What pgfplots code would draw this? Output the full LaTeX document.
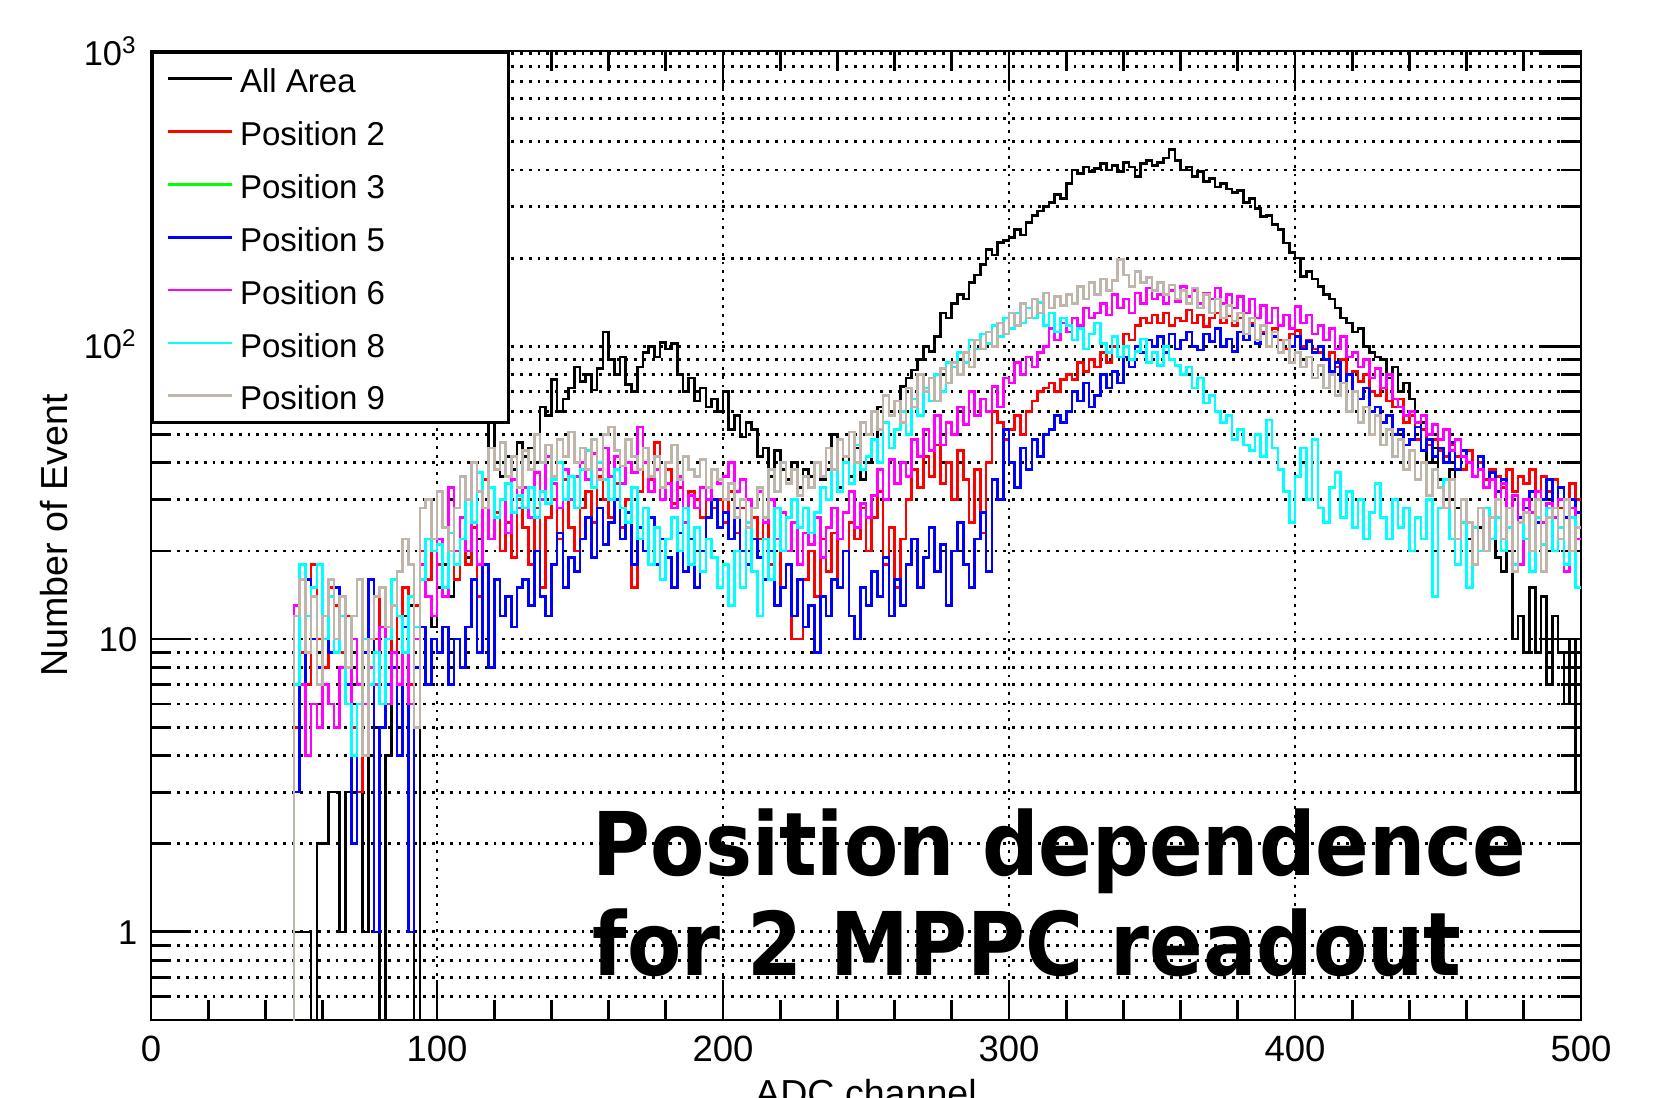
\documentclass[border=0pt]{standalone}
\usepackage{fontspec}
\setmainfont{Liberation Sans}
\newfontfamily\bigsans{DejaVu Sans}[FakeStretch=0.9]
\usepackage{pgfplots}
\pgfplotsset{compat=1.18}
\usepackage{pgfplotstable}

\definecolor{rred}{RGB}{255,0,0}
\definecolor{rgreen}{RGB}{0,255,0}
\definecolor{rblue}{RGB}{0,0,255}
\definecolor{rmagenta}{RGB}{255,0,255}
\definecolor{rcyan}{RGB}{0,255,255}
\definecolor{posgray}{RGB}{191,181,170}

% ADC spectra, bin width 2 (left edges), counts per bin
% k = All Area, r = Pos 2, b = Pos 5, m = Pos 6, c = Pos 8, g = Pos 9
\pgfplotstableread{
x k r b m c g
0 0.01 0.01 0.01 0.01 0.01 0.01
50 1 5 3 13 7 12
52 1 9 7 7 18 16
54 1 7 16 4 12 9
56 0.01 18 10 6 15 14
58 2 10 8 5 18 7
60 2 8 12 7 10 12
62 3 15 9 6 14 16
64 3 13 15 5 9 10
66 1 9 12 8 12 14
68 3 12 7 6 6 8
70 2 5 2 10 4 12
72 3 3 6 7 6 16
74 1 4 9 6 10 4
76 4 8 16 8 7 10
78 5 10 1 7 9 14
80 0.01 15 5 11 6 15
82 4 11 7 6 10 11
84 8 9 8 9 16 13
86 5 12 4 7 12 17
88 12 15 11 9 9 22
90 13 7 1 6 14 18
92 0.01 13 8 10 11 5
94 20 20 11 18 16 28
96 14 16 7 14 22 30
98 11 22 10 12 20 22
100 15 18 9 22 21 32
102 18 14 11 14 15 24
104 14 20 7 33 23 20
106 20 16 10 20 18 28
108 22 22 8 26 22 36
110 19 18 11 20 30 30
112 25 24 16 25 25 40
114 22 14 9 18 37 32
116 28 35 18 28 28 28
118 55 22 8 22 33 45
120 40 27 16 26 26 38
122 36 20 12 30 30 47
124 42 25 14 23 34 36
126 38 19 11 35 27 42
128 47 30 15 28 31 33
130 42 24 16 33 28 44
132 45 18 13 26 33 38
134 40 28 20 37 26 50
136 62 15 14 30 32 40
138 58 26 12 42 29 46
140 77 30 18 34 35 36
142 60 22 23 28 40 48
144 66 35 15 38 30 42
146 72 24 19 30 36 51
148 85 20 17 36 28 40
150 76 28 22 40 38 45
152 80 32 26 35 44 38
154 71 25 19 43 33 48
156 84 36 28 38 40 35
158 112 30 21 45 35 50
160 90 26 25 36 30 53
162 80 34 30 42 38 44
164 92 24 22 34 28 39
166 74 30 27 40 25 48
168 70 15 18 37 33 42
170 85 32 24 53 22 38
172 95 40 20 40 28 45
174 100 35 26 32 18 36
176 92 47 18 38 24 42
178 103 30 22 30 16 33
180 98 38 19 34 22 40
182 102 29 15 28 26 46
184 80 33 23 36 20 35
186 70 28 17 25 28 42
188 78 32 22 31 18 38
190 65 30 15 28 24 36
192 72 26 20 33 17 41
194 62 33 26 30 22 33
196 66 28 30 38 19 38
198 60 30 24 34 15 35
200 70 25 27 36 18 30
202 52 32 22 40 13 34
204 58 23 28 32 20 26
206 49 28 20 35 15 30
208 55 24 18 30 25 24
210 52 26 22 28 17 28
212 42 22 19 32 12 33
214 45 25 16 25 22 26
216 36 18 20 30 16 38
218 44 22 13 22 28 32
220 38 15 15 27 20 40
222 35 18 18 20 26 34
224 40 10 12 25 30 38
226 33 10 16 18 24 31
228 38 16 11 23 28 36
230 36 20 13 21 23 33
232 40 14 9 26 27 40
234 35 22 14 19 33 36
236 38 17 12 24 30 45
238 50 23 16 28 38 38
240 33 15 15 22 32 48
242 42 20 20 27 40 42
244 36 25 12 32 34 51
246 45 22 10 24 46 40
248 35 28 15 29 38 55
250 40 20 13 26 42 50
252 48 26 17 31 48 60
254 62 32 14 38 40 52
256 68 18 19 30 55 68
258 60 24 12 41 45 58
260 65 15 16 34 52 65
262 73 22 13 40 60 55
264 78 30 18 36 50 72
266 83 38 22 48 66 62
268 90 33 15 42 58 80
270 100 42 19 52 72 70
272 96 36 24 44 65 78
274 108 46 17 58 80 65
276 130 34 21 46 70 84
278 125 40 13 55 88 75
280 140 30 20 50 85 88
282 150 44 25 62 95 80
284 145 35 18 54 88 95
286 165 25 15 70 105 85
288 175 38 22 58 98 105
290 190 23 27 66 110 98
292 214 40 17 60 102 112
294 205 60 35 73 118 100
296 226 55 30 62 108 120
298 230 48 52 78 125 110
300 235 52 40 75 115 130
302 250 58 33 88 130 118
304 240 50 45 80 120 140
306 265 60 38 92 135 125
308 280 65 48 85 125 145
310 290 70 42 95 141 130
312 300 72 50 100 118 152
314 310 75 52 115 130 135
316 330 70 58 105 112 148
318 320 77 55 120 125 138
320 360 80 60 112 118 150
322 400 77 70 125 105 140
324 390 88 65 118 115 160
326 410 82 75 135 98 145
328 395 90 62 125 110 165
330 405 85 68 130 120 150
332 420 95 80 140 102 170
334 400 88 72 128 95 155
336 415 100 82 150 108 168
338 395 92 75 135 92 198
340 425 110 92 145 100 175
342 410 105 85 130 90 160
344 380 118 100 152 96 180
346 420 125 95 140 106 165
348 430 120 105 158 88 172
350 415 128 100 145 95 155
352 425 120 108 150 86 165
354 440 130 95 140 100 150
356 470 118 110 155 90 162
358 430 125 98 142 86 145
360 400 122 105 160 80 155
362 410 133 112 148 85 140
364 380 120 100 155 72 158
366 395 128 97 140 78 135
368 365 117 110 152 64 150
370 375 125 104 145 68 130
372 350 130 115 158 60 145
374 360 120 100 140 55 125
376 345 127 106 150 58 138
378 335 118 96 135 48 122
380 340 125 112 148 52 130
382 310 110 105 130 46 110
384 320 120 118 145 44 125
386 295 105 102 125 50 105
388 277 112 110 138 42 118
390 280 100 100 120 56 100
392 260 115 108 135 45 112
394 250 105 95 118 38 95
396 225 98 105 128 32 105
398 209 110 100 115 25 88
400 200 113 108 137 36 95
402 173 100 98 120 45 85
404 180 105 104 128 30 92
406 170 98 95 110 48 78
408 160 95 100 118 28 86
410 150 90 90 105 25 72
412 145 95 82 115 33 80
414 135 85 88 98 37 68
416 125 90 75 108 26 75
418 120 80 80 92 32 60
420 112 82 70 95 24 70
422 115 76 66 85 30 55
424 100 80 72 90 22 62
426 95 70 60 78 27 50
428 92 68 62 84 34 58
430 90 72 55 72 26 46
432 78 65 58 80 22 52
434 85 62 50 66 30 42
436 70 66 52 62 24 48
438 75 55 46 58 28 38
440 66 58 48 60 20 44
442 48 48 53 55 26 35
444 55 52 44 58 22 40
446 40 46 48 50 30 31
448 45 48 42 54 14 38
450 35 44 45 48 28 33
452 30 42 40 52 35 28
454 38 46 47 44 22 35
456 28 42 38 48 18 22
458 25 38 44 42 25 30
460 22 44 40 40 15 25
462 18 36 36 36 24 18
464 24 40 42 38 20 28
466 20 35 33 33 28 20
468 22 38 37 35 22 26
470 19 36 32 30 26 30
472 17 33 35 34 20 22
474 20 38 28 28 24 28
476 10 32 31 31 18 17
478 12 36 26 18 25 25
480 9 34 28 30 22 27
482 15 38 32 27 17 20
484 9 30 25 32 26 30
486 14 36 30 25 21 17
488 7 32 35 29 28 26
490 12 35 28 26 20 28
492 9 28 33 30 24 22
494 6 18 26 17 18 30
496 10 34 30 28 26 20
498 3 30 27 22 15 24
500 3 30 27 22 15 24
}\hist

\newcommand{\lgt}[1]{\rule[-0.11cm]{0pt}{0.445cm}\makebox[2.475cm][l]{#1}}

\begin{document}
\begin{tikzpicture}
\useasboundingbox (-1.51cm,-0.77cm) rectangle (15.21cm,10.20cm);
\begin{axis}[
    scale only axis,
    width=14.3cm, height=9.69cm,
    xmin=0, xmax=500,
    ymode=log, ymin=0.5, ymax=1020,
    xtick={0,100,...,500}, minor x tick num=4,
    ytick={1,10,100,1000},
    yticklabels={1,10,10\textsuperscript{2},10\textsuperscript{3}},
    minor ytick={0.6,0.7,0.8,0.9,2,3,4,5,6,7,8,9,20,30,40,50,60,70,80,90,200,300,400,500,600,700,800,900},
    /pgf/number format/assume math mode=true,
    xmajorgrids, ymajorgrids, yminorgrids,
    major grid style={black, line width=0.8pt, dash pattern=on 0.8pt off 1.7pt},
    minor grid style={black, line width=0.8pt, dash pattern=on 0.8pt off 1.7pt},
    axis line style={line width=0.8pt},
    tick style={black, line width=0.8pt},
    major tick length=0.4cm, minor tick length=0.2cm,
    xticklabel style={font=\fontsize{10.4}{12}\selectfont, inner sep=0pt, anchor=north, yshift=-0.15cm},
    yticklabel style={font=\fontsize{9.8}{12}\selectfont, inner sep=0pt, anchor=base east, xshift=-0.13cm, yshift=-0.125cm},
    xlabel={ADC channel},
    ylabel={Number of Event},
    xlabel style={at={(axis description cs:0.5,0)}, anchor=north, yshift=-0.59cm, inner sep=0pt, font=\fontsize{10.7}{13}\selectfont},
    ylabel style={at={(axis description cs:-0.0678,0.5)}, anchor=center, inner sep=0pt, font=\fontsize{10.7}{13}\selectfont},
    legend style={at={(0,1)}, anchor=north west, draw=black, line width=0.8pt, fill=white,
        inner xsep=0.14cm, inner ysep=0pt, row sep=0pt,
        font=\fontsize{9.4}{11}\selectfont},
    legend cell align=left,
    legend image code/.code={\draw[#1] (0cm,0cm) -- (0.64cm,0cm);},
]
\addplot[black, const plot, line width=0.75pt] table[x=x, y=k] {\hist};
\addlegendentry{\lgt{All Area}}
\addplot[rred, const plot, line width=0.75pt] table[x=x, y=r] {\hist};
\addlegendentry{\lgt{Position 2}}
\addlegendimage{rgreen, line width=0.75pt}
\addlegendentry{\lgt{Position 3}}
\addplot[rblue, const plot, line width=0.75pt] table[x=x, y=b] {\hist};
\addlegendentry{\lgt{Position 5}}
\addplot[rmagenta, const plot, line width=0.75pt] table[x=x, y=m] {\hist};
\addlegendentry{\lgt{Position 6}}
\addplot[rcyan, const plot, line width=0.75pt] table[x=x, y=c] {\hist};
\addlegendentry{\lgt{Position 8}}
\addplot[posgray, const plot, line width=0.75pt] table[x=x, y=g] {\hist};
\addlegendentry{\lgt{Position 9}}

\node[anchor=base west, inner sep=0pt, font=\bigsans\bfseries\fontsize{25}{30}\selectfont]
    at (axis cs:154.2,1.56) {Position dependence};
\node[anchor=base west, inner sep=0pt, font=\bigsans\bfseries\fontsize{25}{30}\selectfont]
    at (axis cs:154.2,0.708) {for 2 MPPC readout};
\end{axis}
\end{tikzpicture}
\end{document}
